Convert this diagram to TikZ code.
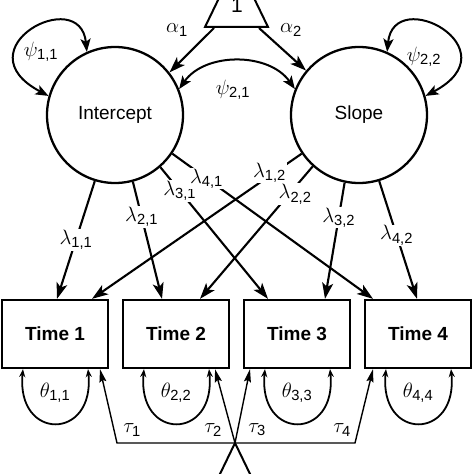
\documentclass[tikz,border=0pt]{standalone}
\usepackage{amsmath}
\usepackage{fontspec}
\setmainfont{Liberation Sans}
\usetikzlibrary{arrows.meta}
\begin{document}
\begin{tikzpicture}[x=1pt,y=1pt,
	latent/.style={circle,draw,line width=2.3pt,minimum size=136pt,inner sep=0pt,font=\fontsize{19}{22}\selectfont},
	manifest/.style={rectangle,draw,line width=2.3pt,minimum width=106pt,minimum height=68pt,font=\fontsize{19}{22}\selectfont\bfseries},
	load/.style={line width=2.1pt,-{Stealth[length=16pt,width=11pt,inset=4pt]}},
	cov/.style={line width=2pt,{Stealth[length=13pt,width=10pt,inset=3pt]}-{Stealth[length=13pt,width=10pt,inset=3pt]}},
	resid/.style={line width=1.8pt,{Stealth[length=8pt,width=6pt]}-{Stealth[length=8pt,width=6pt]}},
	mean/.style={line width=1.4pt,-{Stealth[length=13pt,width=7pt,inset=2pt]}},
	lab/.style={font=\fontsize{21}{24}\selectfont,inner sep=1pt},
	cut/.style={lab,fill=white}]
		\useasboundingbox (0,0) rectangle (474,474);
		\clip (0,0) rectangle (474,474);
		
		% constant (top) and its means
		\draw [line width=2pt] (205,447) -- (268,447) -- (236.5,512) -- cycle;
		\node[lab] (one) at (237,469) {1};
		\coordinate (c1) at (214,446); \coordinate (c2) at (259,446);
		
		\node[latent] (icpt) at (115,359) {Intercept};
		\node[latent] (slope) at (359,359) {Slope};
		
		\node[manifest] (time1) at (55,140) {Time 1};
		\node[manifest] (time2) at (176,140) {Time 2};
		\node[manifest] (time3) at (297,140) {Time 3};
		\node[manifest] (time4) at (418,140) {Time 4};
		
		\draw[load] (c1) -- (icpt.38); \node[lab] (a1) at (177,444) {$\alpha_{\text{1}}$};
		\draw[load] (c2) -- (slope.140); \node[lab] (a2) at (291,444) {$\alpha_{\text{2}}$};
		
		% variances and covariance of the factors
		\draw[cov] (icpt.114) .. controls (80,490) and (-40,425) .. (icpt.164);
		\node[lab] (p11) at (41,422) {$\psi_{\text{1,1}}$};
		\draw[cov] (slope.66) .. controls (394,490) and (514,425) .. (slope.16);
		\node[lab] (p22) at (424,417) {$\psi_{\text{2,2}}$};
		\draw[cov] (icpt.22) to[bend left=55] (slope.158);
		\node[lab] (p21) at (233,384) {$\psi_{\text{2,1}}$};
		
		% loadings
		\draw[load] (icpt.253) -- node[cut,pos=.5] {$\lambda_{\text{1,1}}$} ([xshift=2pt]time1.north);
		\draw[load] (icpt.285) -- node[cut,pos=.3] {$\lambda_{\text{2,1}}$} ([xshift=-14pt]time2.north);
		\draw[load] (icpt.311) -- node[cut,pos=.18] {$\lambda_{\text{3,1}}$} ([xshift=-29pt]time3.north);
		\draw[load] (icpt.326) -- node[cut,pos=.17] {$\lambda_{\text{4,1}}$} ([xshift=-45pt]time4.north);
		\draw[load] (slope.214) -- node[cut,pos=.13,xshift=-5pt] {$\lambda_{\text{1,2}}$} ([xshift=37pt]time1.north);
		\draw[load] (slope.228) -- node[cut,pos=.21,xshift=6pt] {$\lambda_{\text{2,2}}$} ([xshift=24pt]time2.north);
		\draw[load] (slope.258) -- node[cut,pos=.3] {$\lambda_{\text{3,2}}$} ([xshift=28pt]time3.north);
		\draw[load] (slope.287) -- node[cut,pos=.46] {$\lambda_{\text{4,2}}$} ([xshift=-1pt]time4.north);
		
		% residuals
		\foreach \i in {1,...,4} {
			\draw[resid] ([xshift=-32pt]time\i.south) .. controls +(-7,-72) and +(7,-72) .. ([xshift=33pt]time\i.south);
			\node[lab] (th\i) at ([yshift=-24pt]time\i.south) {$\theta_{\text{\i,\i}}$};
		}
		
		% constant (bottom) and its intercepts
		\coordinate (apex) at (235,31);
		\draw [line width=2pt] (apex) -- (203.5,-34) -- (266.5,-34) -- cycle;
		\draw[mean] (apex) -- (117,31) -- ([xshift=45pt]time1.south);
		\draw[mean] (apex) -- ([xshift=39pt]time2.south);
		\draw[mean] (apex) -- ([xshift=-47pt]time3.south);
		\draw[mean] (apex) -- (355,31) -- ([xshift=-45pt]time4.south);
		\node[lab] (tau1) at (132,44) {$\tau_{\text{1}}$};
		\node[lab] (tau2) at (213,44) {$\tau_{\text{2}}$};
		\node[lab] (tau3) at (257,44) {$\tau_{\text{3}}$};
		\node[lab] (tau4) at (342,44) {$\tau_{\text{4}}$};
\end{tikzpicture}
\end{document}
